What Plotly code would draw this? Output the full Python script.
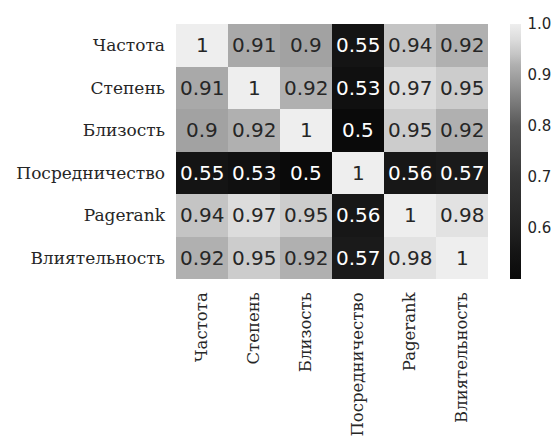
import plotly.graph_objects as go

labels = ["Частота", "Степень", "Близость", "Посредничество", "Pagerank", "Влиятельность"]

row_chastota = [1, 0.91, 0.9, 0.55, 0.94, 0.92]
row_stepen = [0.91, 1, 0.92, 0.53, 0.97, 0.95]
row_blizost = [0.9, 0.92, 1, 0.5, 0.95, 0.92]
row_posred = [0.55, 0.53, 0.5, 1, 0.56, 0.57]
row_pagerank = [0.94, 0.97, 0.95, 0.56, 1, 0.98]
row_vliyat = [0.92, 0.95, 0.92, 0.57, 0.98, 1]

matrix = [row_chastota, row_stepen, row_blizost, row_posred, row_pagerank, row_vliyat]

cbar_ticks = [0.6, 0.7, 0.8, 0.9, 1.0]

def fmt(v):
    s = f"{v:.2f}".rstrip("0").rstrip(".")
    return s

colorscale = [
    [0.0, "rgb(10,10,10)"],
    [0.1, "rgb(20,20,20)"],
    [0.2, "rgb(34,34,34)"],
    [0.4, "rgb(55,55,55)"],
    [0.6, "rgb(88,88,88)"],
    [0.8, "rgb(162,162,162)"],
    [0.84, "rgb(176,176,176)"],
    [0.88, "rgb(196,196,196)"],
    [0.94, "rgb(220,220,220)"],
    [1.0, "rgb(238,238,238)"],
]

fig = go.Figure(
    go.Heatmap(
        z=matrix,
        x=labels,
        y=labels,
        zmin=0.5,
        zmax=1.0,
        colorscale=colorscale,
        showscale=True,
        hoverinfo="skip",
        colorbar=dict(
            x=1.0705,
            xanchor="left",
            xpad=0,
            y=0.5,
            yanchor="middle",
            ypad=0,
            len=1,
            lenmode="fraction",
            thickness=11,
            outlinewidth=0,
            tickvals=cbar_ticks,
            ticktext=[f"{t:.1f}" for t in cbar_ticks],
            ticks="outside",
            ticklen=4,
            tickcolor="rgba(0,0,0,0)",
            tickfont=dict(family="DejaVu Sans", size=15, color="#262626"),
        ),
    )
)

annotations = []
for i, row in enumerate(matrix):
    for j, v in enumerate(row):
        dark = v < 0.75
        annotations.append(
            dict(
                x=labels[j],
                y=labels[i],
                xref="x",
                yref="y",
                text=fmt(v),
                showarrow=False,
                font=dict(
                    family="DejaVu Sans",
                    size=20,
                    color="white" if dark else "#262626",
                ),
            )
        )

fig.update_layout(
    template="none",
    width=559,
    height=438,
    margin=dict(l=176, r=71, t=24, b=159, autoexpand=False),
    paper_bgcolor="white",
    plot_bgcolor="white",
    annotations=annotations,
    xaxis=dict(
        tickangle=-90,
        tickfont=dict(family="DejaVu Serif", size=16.5, color="#262626"),
        showgrid=False,
        zeroline=False,
        showline=False,
        ticks="",
        ticklabelstandoff=9,
        automargin=False,
    ),
    yaxis=dict(
        autorange="reversed",
        tickfont=dict(family="DejaVu Serif", size=17, color="#262626"),
        showgrid=False,
        zeroline=False,
        showline=False,
        ticks="",
        ticklabelstandoff=10,
        automargin=False,
    ),
)

fig.write_html(
    "out.html",
    config={"displayModeBar": False},
    post_script="document.body.style.margin='0';document.body.style.overflow='hidden';",
)
